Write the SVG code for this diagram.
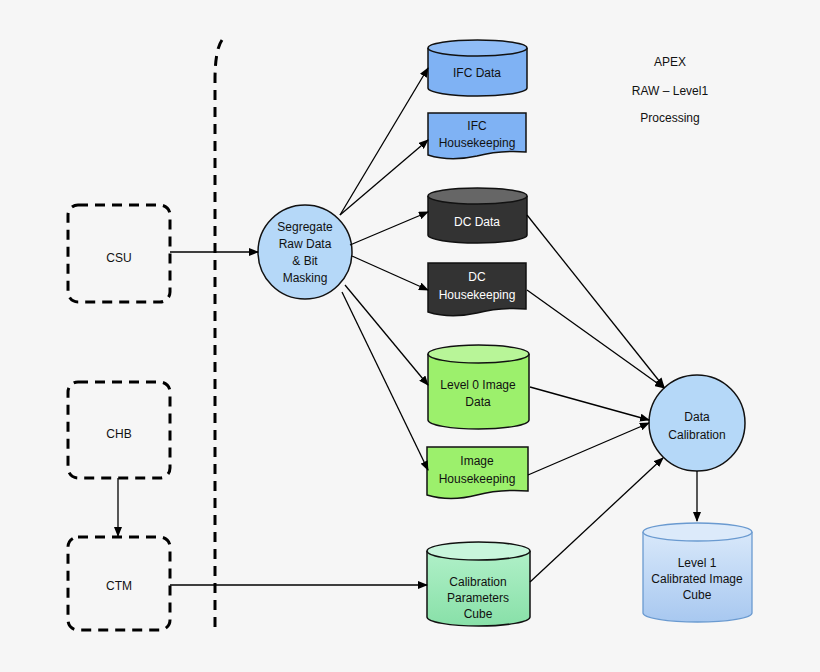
<svg xmlns="http://www.w3.org/2000/svg" width="820" height="672" viewBox="0 0 820 672">
<defs>
<marker id="ah" markerWidth="10" markerHeight="8" refX="9" refY="4" orient="auto" markerUnits="userSpaceOnUse"><path d="M0,0 L10,4 L0,8 z" fill="#000"/></marker>
<linearGradient id="gb" x1="0" y1="0" x2="0" y2="1"><stop offset="0" stop-color="#d8e8fa"/><stop offset="1" stop-color="#a8c8f0"/></linearGradient>
<linearGradient id="gg" x1="0" y1="0" x2="0" y2="1"><stop offset="0" stop-color="#b0f0c8"/><stop offset="1" stop-color="#88e0a8"/></linearGradient>
</defs>
<style>
text{font-family:"Liberation Sans",Arial,sans-serif;font-size:12px;text-anchor:middle;fill:#111}
.dash{fill:none;stroke:#000;stroke-width:3;stroke-dasharray:10,7}
.s{stroke:#111;stroke-width:1.5}
.c{stroke:#000;stroke-width:1.3;fill:none;marker-end:url(#ah)}
.w{fill:#fff}
</style>
<rect width="820" height="672" fill="#f6f6f6"/>
<path class="dash" d="M222,40 Q215,50 215,80 L215,630"/>
<g id="csu"><rect class="dash" x="68" y="205" width="102" height="97" rx="10"/><text x="119" y="262" font-size="14">CSU</text></g>
<g id="chb"><rect class="dash" x="68" y="382" width="102" height="96" rx="10"/><text x="119" y="438" font-size="14">CHB</text></g>
<g id="ctm"><rect class="dash" x="68" y="537" width="102" height="93" rx="10"/><text x="119" y="590" font-size="14">CTM</text></g>
<g id="seg"><circle class="s" cx="305" cy="252" r="47" fill="#b5d8f8"/><text x="305" y="231">Segregate</text><text x="305" y="248">Raw Data</text><text x="305" y="265">&amp; Bit</text><text x="305" y="282">Masking</text></g>
<g id="ifcdata"><path class="s" fill="#7fb2f4" d="M428,48 L428,88 A49.5,8 0 0 0 527,88 L527,48"/><ellipse class="s" cx="477.5" cy="48" rx="49.5" ry="8" fill="#8fbcf6"/><text x="477" y="77">IFC Data</text></g>
<g id="ifchk"><path class="s" fill="#7fb2f4" d="M428,113 L526,113 L526,152 Q500,150 477,156 Q450,162 428,155 z"/><text x="477" y="130">IFC</text><text x="477" y="147">Housekeeping</text></g>
<g id="dcdata"><path class="s" fill="#333" d="M428,196 L428,235 A49.5,8 0 0 0 527,235 L527,196"/><ellipse class="s" cx="477.5" cy="196" rx="49.5" ry="8" fill="#666"/><text x="477" y="226" style="fill:#fff">DC Data</text></g>
<g id="dchk"><path class="s" fill="#333" d="M428,263 L526,263 L526,309 Q500,307 477,313 Q450,319 428,312 z"/><text x="477" y="281" style="fill:#fff">DC</text><text x="477" y="299" style="fill:#fff">Housekeeping</text></g>
<g id="l0"><path class="s" fill="#9cf06c" d="M428,354 L428,420 A50.5,9 0 0 0 529,420 L529,354"/><ellipse class="s" cx="478.5" cy="354" rx="50.5" ry="9" fill="#b8f598"/><text x="478" y="389">Level 0 Image</text><text x="478" y="406">Data</text></g>
<g id="imghk"><path class="s" fill="#9cf06c" d="M427,447 L528,447 L528,491 Q500,489 477,495 Q450,502 427,495 z"/><text x="477" y="465">Image</text><text x="477" y="483">Housekeeping</text></g>
<g id="calp"><path class="s" fill="url(#gg)" d="M427,551 L427,617 A51.5,9 0 0 0 530,617 L530,551"/><ellipse class="s" cx="478.5" cy="551" rx="51.5" ry="9" fill="#c8f5dc"/><text x="478" y="586">Calibration</text><text x="478" y="602">Parameters</text><text x="478" y="618">Cube</text></g>
<g id="dcal"><circle class="s" cx="697" cy="423" r="48" fill="#b5d8f8"/><text x="697" y="421">Data</text><text x="697" y="439">Calibration</text></g>
<g id="l1"><path stroke="#6a9ad0" stroke-width="1.3" fill="url(#gb)" d="M643,532 L643,613 A54.5,9 0 0 0 752,613 L752,532"/><ellipse stroke="#6a9ad0" stroke-width="1.3" cx="697.5" cy="532" rx="54.5" ry="9" fill="#dceafa"/><text x="697" y="567">Level 1</text><text x="697" y="583">Calibrated Image</text><text x="697" y="599">Cube</text></g>
<g id="title" style="font-size:19px"><text x="670" y="66" font-size="19">APEX</text><text x="670" y="95" font-size="19">RAW – Level1</text><text x="670" y="122" font-size="19">Processing</text></g>
<g id="connectors">
<path class="c" d="M170,252 L258,252"/>
<path class="c" d="M170,585 L427,585"/>
<path class="c" d="M118,478 L118,536"/>
<path class="c" d="M340,215 L428,68"/>
<path class="c" d="M340,215 L428,140"/>
<path class="c" d="M350,245 L428,212"/>
<path class="c" d="M352,256 L428,290"/>
<path class="c" d="M345,285 L428,385"/>
<path class="c" d="M342,292 L428,470"/>
<path class="c" d="M527,215 L664,387"/>
<path class="c" d="M527,290 L664,388"/>
<path class="c" d="M530,387 L649,420"/>
<path class="c" d="M528,475 L649,423"/>
<path class="c" d="M530,582 L663,458"/>
<path class="c" d="M697,471 L697,521"/>
</g>
</svg>
